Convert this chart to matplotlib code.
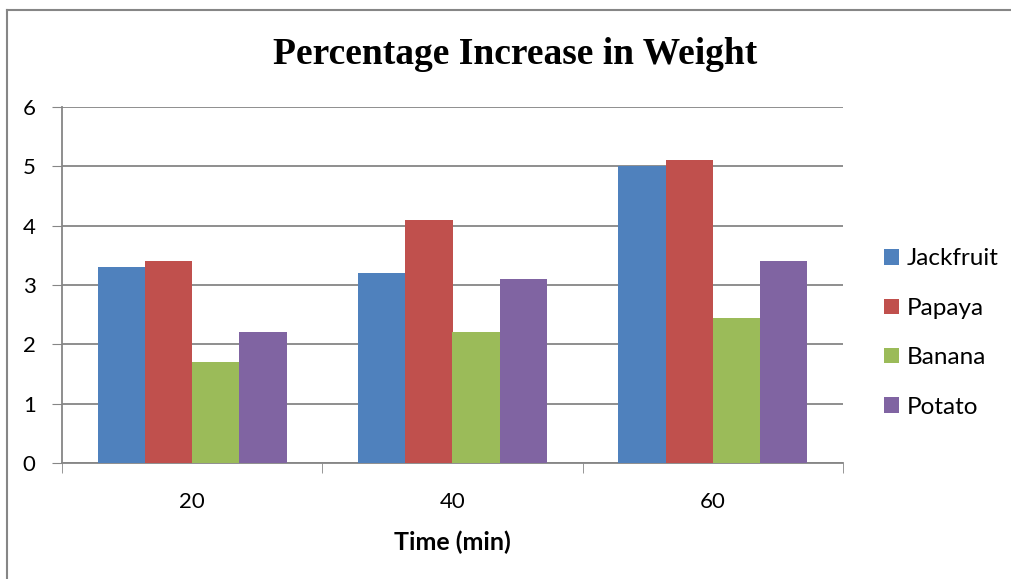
import numpy as np
import matplotlib
matplotlib.use("Agg")
import matplotlib.pyplot as plt
from matplotlib.lines import Line2D

categories = ["20", "40", "60"]
series_names = ["Jackfruit", "Papaya", "Banana", "Potato"]
jackfruit = [3.3, 3.2, 5.0]
papaya = [3.4, 4.1, 5.1]
banana = [1.7, 2.2, 2.44]
potato = [2.2, 3.1, 3.4]
y_ticks = [0, 1, 2, 3, 4, 5, 6]

colors = ["#4f81bd", "#c0504d", "#9bbb59", "#8064a2"]
grid_color = "#868686"
label_font = "Lato"

fig = plt.figure(figsize=(10.11, 5.79), dpi=100)
ax = fig.add_axes([62 / 1011, 1 - 463 / 579, (843 - 62) / 1011, (463 - 107) / 579])

values = [jackfruit, papaya, banana, potato]
n = len(values)
bar_w = 1 / (n + 1.5)
x = np.arange(len(categories))
for i, (name, vals) in enumerate(zip(series_names, values)):
    offs = (i - (n - 1) / 2) * bar_w
    ax.bar(x + offs, vals, width=bar_w, color=colors[i], label=name, zorder=3)

ax.set_xlim(-0.5, len(categories) - 0.5)
ax.set_ylim(0, 6)
ax.set_yticks(y_ticks)
ax.set_yticklabels([str(t) for t in y_ticks], fontsize=16, family=label_font)
ax.set_xticks(x)
ax.set_xticklabels(categories, fontsize=16, family=label_font)
ax.tick_params(axis="x", length=0, pad=21)
ax.set_xticks(np.arange(-0.5, len(categories), 1), minor=True)
ax.tick_params(axis="x", which="minor", length=7, color=grid_color, direction="out")
ax.tick_params(axis="y", length=7, color=grid_color, direction="out", pad=12)

ax.grid(axis="y", color=grid_color, linewidth=1.3, zorder=0)
for s in ["top", "right"]:
    ax.spines[s].set_visible(False)
for s in ["left", "bottom"]:
    ax.spines[s].set_color(grid_color)
    ax.spines[s].set_linewidth(1.3)

ax.set_xlabel("Time (min)", fontsize=18, fontweight="bold", family=label_font, labelpad=13)

fig.text(515 / 1011, 1 - 54 / 579, "Percentage Increase in Weight", ha="center", va="center",
         fontsize=27, fontweight="bold", family="Liberation Serif")

leg = ax.legend(loc="center left", bbox_to_anchor=(1.04, 0.365), frameon=False,
                prop={"family": label_font, "size": 17.5}, handlelength=0.6, handleheight=0.6,
                handletextpad=0.35, labelspacing=1.17, borderaxespad=0)

# outer chart frame (cut off at right and bottom)
fig.add_artist(Line2D([6.5 / 1011, 1], [1 - 10 / 579, 1 - 10 / 579], color=grid_color, linewidth=1.5))
fig.add_artist(Line2D([6.5 / 1011, 6.5 / 1011], [0, 1 - 10 / 579], color=grid_color, linewidth=1.5))

fig.savefig("out.png", dpi=100)
